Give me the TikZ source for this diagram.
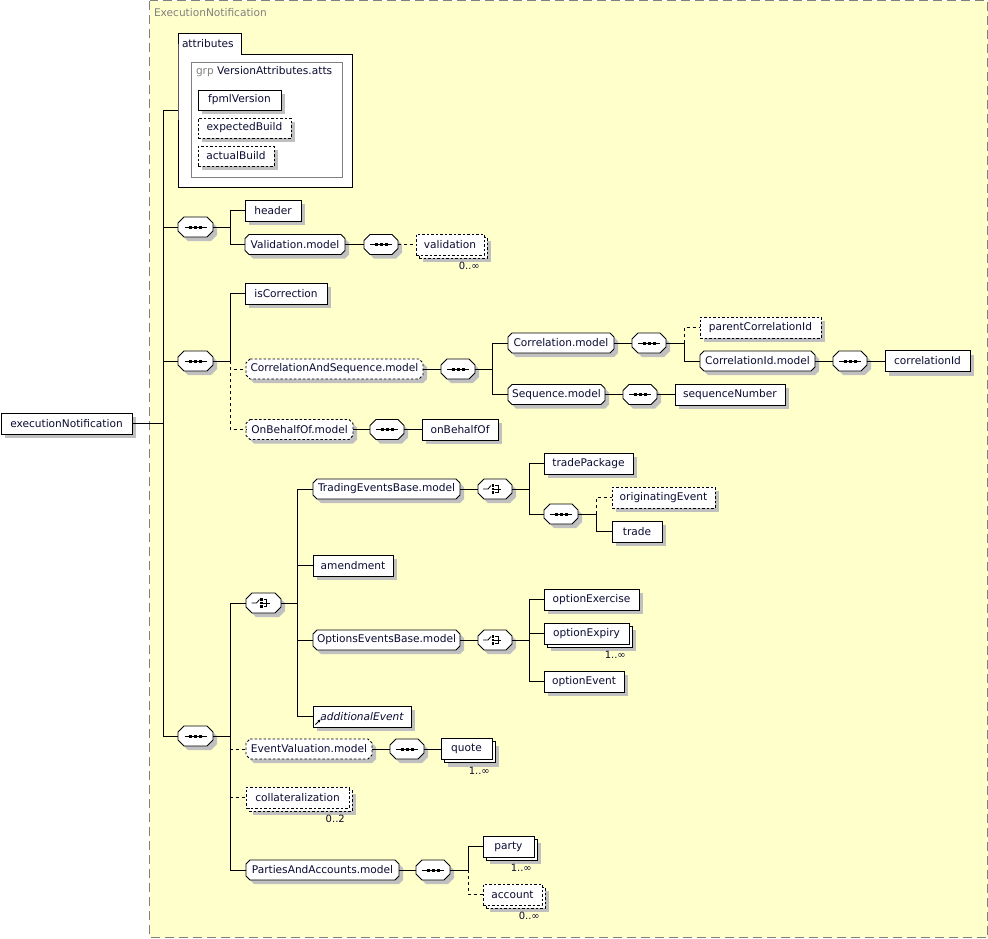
\documentclass[tikz,border=0pt]{standalone}
\usepackage{fontspec}
\setmainfont{DejaVu Sans}
\usetikzlibrary{arrows.meta}
\definecolor{bgy}{RGB}{255,255,204}
\definecolor{bordg}{RGB}{128,128,128}
\definecolor{shc}{RGB}{192,192,192}
\definecolor{txt}{RGB}{10,10,50}
\tikzset{
  base/.style={inner sep=0pt, outer sep=0pt, font=\fontsize{10.6}{12}\selectfont, text=txt},
  sh/.style={preaction={fill=shc, draw=none, transform canvas={xshift=4pt,yshift=-4pt}}},
  shm/.style={preaction={fill=shc, draw=none, transform canvas={xshift=7pt,yshift=-7pt}},
              preaction={fill=white, draw=black, transform canvas={xshift=3pt,yshift=-3pt}}},
  elem/.style={base, draw, fill=white, line width=0.9pt, sh},
  melem/.style={base, draw, fill=white, line width=0.9pt, shm},
  opt/.style={dash pattern=on 2.5pt off 2pt},
  link/.style={line width=0.9pt},
  olink/.style={line width=0.9pt, dash pattern=on 3pt off 3pt},
  occ/.style={font=\fontsize{10}{11}\selectfont, text=txt, inner sep=0pt, anchor=north east},
}
\newcommand\el[7]{\node[#7, minimum width={(#4-#2)*1pt}, minimum height={(#5-#3)*1pt}] (#1) at ({(#2+#4)/2},{(#3+#5)/2}) {#6};}
\newcommand\oc[8]{%
  \draw[line width=0.9pt, fill=white, sh, #8] ({#2+#6},#3) -- ({#4-#6},#3) -- (#4,{#3+#6}) -- (#4,{#5-#6}) -- ({#4-#6},#5) -- ({#2+#6},#5) -- (#2,{#5-#6}) -- (#2,{#3+#6}) -- cycle;
  \node[base, minimum width={(#4-#2)*1pt}, minimum height={(#5-#3)*1pt}] (#1) at ({(#2+#4)/2},{(#3+#5)/2}) {#7};}
\newcommand\seqic[1]{%
  \draw[line width=0.9pt] ([xshift=-11pt]#1.center) -- ([xshift=11pt]#1.center);
  \foreach \d in {-5,0,5} \fill ([xshift=\d pt-1.5pt, yshift=1.5pt]#1.center) rectangle ++(3,3);}
\newcommand\choiceic[1]{%
  \draw[line width=0.8pt] ([xshift=-12pt]#1.center) -- ([xshift=-7pt]#1.center) -- ([xshift=-4pt,yshift=3.5pt]#1.center);
  \foreach \d in {3.5,0,-3.5} \fill ([xshift=-3.5pt,yshift=\d pt+1.25pt]#1.center) rectangle ++(2.5,2.5);
  \draw[line width=0.8pt] ([xshift=0pt,yshift=3.5pt]#1.center) -- ([xshift=3pt,yshift=3.5pt]#1.center) -- ([xshift=3pt,yshift=-3.5pt]#1.center) -- ([xshift=0pt,yshift=-3.5pt]#1.center);
  \draw[line width=0.8pt] ([xshift=-1pt]#1.center) -- ([xshift=6pt]#1.center);}
\newcommand\seqsym[6]{\oc{#1}{#2}{#3}{#4}{#5}{6}{}{#6}\seqic{#1}}
\newcommand\chsym[6]{\oc{#1}{#2}{#3}{#4}{#5}{6}{}{#6}\choiceic{#1}}
\begin{document}
\begin{tikzpicture}[x=1pt,y=-1pt]
\useasboundingbox (0,0) rectangle (988,938);
% container
\draw[bordg, fill=bgy, line width=1pt, dash pattern=on 9pt off 5pt] (149.5,0.5) rectangle (987.5,937.5);
\node[base, text=bordg, anchor=west] (ctitle) at (154,13) {ExecutionNotification};
% root
\el{root}{1}{413}{132}{434}{executionNotification}{elem}
% attributes
\draw[line width=0.9pt, fill=white] (178,54) -- (178,33) -- (241,33) -- (241,54) -- (352,54) -- (352,187) -- (178,187) -- cycle;
\node[base, minimum width=174pt, minimum height=154pt] (attrs) at (265,110) {};
\node[base, anchor=west] (attrl) at (182,43.5) {attributes};
\draw[bordg, line width=0.9pt] (191,62) rectangle (342,177);
\node[base, anchor=west] (grpl) at (196,72) {\textcolor{bordg}{grp} VersionAttributes.atts};
\el{fpml}{198}{90}{281}{110}{fpmlVersion}{elem}
\el{expb}{198}{118}{291}{138}{expectedBuild}{elem,opt}
\el{actb}{198}{146}{274}{166}{actualBuild}{elem,opt}
% sequence A
\seqsym{seqA}{178}{217}{213}{237}{}
\el{header}{245}{200}{301}{221}{header}{elem}
\oc{valm}{245}{234.5}{345}{254.5}{4}{Validation.model}{}
\seqsym{valseq}{364}{234.5}{398}{254.5}{}
\el{valid}{416}{234}{484}{255}{validation}{melem,opt}
\node[occ] (valocc) at (480,262) {0..∞};
% sequence B
\seqsym{seqB}{178}{351}{213}{371}{}
\el{iscorr}{245}{283}{327}{304}{isCorrection}{elem}
\oc{cas}{246}{359}{423}{379}{4}{CorrelationAndSequence.model}{opt}
\seqsym{casseq}{441}{359}{475}{379}{}
\oc{corrm}{508}{333}{614}{353}{4}{Correlation.model}{}
\seqsym{corrseq}{632}{333}{666}{353}{}
\el{pcid}{700}{317}{821}{338}{parentCorrelationId}{elem,opt}
\oc{cidm}{700}{351}{815}{371}{4}{CorrelationId.model}{}
\seqsym{cidseq}{833}{351}{867}{371}{}
\el{cid}{885}{350.5}{970}{371.5}{correlationId}{elem}
\oc{seqm}{508}{384.5}{605}{404.5}{4}{Sequence.model}{}
\seqsym{seqmseq}{623}{384.5}{657}{404.5}{}
\el{seqnum}{675}{384}{785}{405}{sequenceNumber}{elem}
\oc{obo}{246}{419.5}{353}{439.5}{4}{OnBehalfOf.model}{opt}
\seqsym{oboseq}{370}{419.5}{404}{439.5}{}
\el{onbeh}{422}{419}{498}{440}{onBehalfOf}{elem}
% sequence D
\seqsym{seqD}{178}{726}{213}{746}{}
\chsym{choiceA}{246}{593}{281}{613}{}
\oc{tebm}{313}{479}{460}{499}{4}{TradingEventsBase.model}{}
\chsym{tchoice}{478}{479}{512}{499}{}
\el{tpkg}{544}{453}{633}{474}{tradePackage}{elem}
\seqsym{tseq}{544}{504}{578}{524}{}
\el{origev}{612}{487}{715}{508}{originatingEvent}{elem,opt}
\el{trade}{612}{521}{662}{542}{trade}{elem}
\el{amend}{313}{555}{393}{576}{amendment}{elem}
\oc{oebm}{313}{630}{460}{650}{4}{OptionsEventsBase.model}{}
\chsym{ochoice}{478}{630}{512}{650}{}
\el{optex}{544}{589}{639}{610}{optionExercise}{elem}
\el{optexp}{544}{623}{629}{644}{optionExpiry}{melem}
\node[occ] (optexpocc) at (626,651) {1..∞};
\el{optev}{544}{671}{624}{692}{optionEvent}{elem}
\el{addev}{313}{706}{411}{727}{\itshape additionalEvent}{elem}
\draw[-{Stealth[length=3pt,width=3pt]}, line width=0.8pt] ([xshift=2.5pt,yshift=2.5pt]addev.south west) -- ++(5,-5);
\oc{evm}{246}{739}{372}{759}{4}{EventValuation.model}{opt}
\seqsym{evseq}{390}{739}{424}{759}{}
\el{quote}{441}{738.5}{492}{759.5}{quote}{melem}
\node[occ] (quoteocc) at (490,767) {1..∞};
\el{coll}{246}{787}{349}{808}{collateralization}{melem,opt}
\node[occ] (collocc) at (345,815) {0..2};
\oc{pam}{246}{860}{399}{880}{4}{PartiesAndAccounts.model}{}
\seqsym{paseq}{416}{860}{450}{880}{}
\el{party}{483}{836}{534}{857}{party}{melem}
\node[occ] (partyocc) at (532,864) {1..∞};
\el{account}{483}{884}{542}{905}{account}{melem,opt}
\node[occ] (accocc) at (540,912) {0..∞};
% ---- connectors
\coordinate (TA) at (163,110);
\coordinate (TD) at (163,736);
\draw[link] (TA) -- (TD);
\draw[link] (root.east) -- (root.east -| TA);
\draw[link] (attrs.west -| TA) -- (attrs.west);
\draw[link] (seqA.west -| TA) -- (seqA.west);
\draw[link] (seqB.west -| TA) -- (seqB.west);
\draw[link] (seqD.west -| TA) -- (seqD.west);
% A
\coordinate (jA) at ([xshift=17pt]seqA.east);
\draw[link] (seqA.east) -- (jA) |- (header.west);
\draw[link] (jA) |- (valm.west);
\draw[link] (valm.east) -- (valseq.west);
\draw[olink] (valseq.east) -- (valseq.east -| valid.west);
% B
\coordinate (jB) at ([xshift=17pt]seqB.east);
\draw[link] (seqB.east) -- (jB) |- (iscorr.west);
\draw[olink] (jB) |- (cas.west);
\draw[olink] (jB) |- (obo.west);
\draw[link] (cas.east) -- (casseq.west);
\coordinate (jC) at ([xshift=17pt]casseq.east);
\draw[link] (casseq.east) -- (jC) |- (corrm.west);
\draw[link] (jC) |- (seqm.west);
\draw[link] (corrm.east) -- (corrseq.west);
\coordinate (jE) at ([xshift=18pt]corrseq.east);
\draw[link] (corrseq.east) -- (jE);
\draw[olink] (jE) |- (pcid.west);
\draw[link] (jE) |- (cidm.west);
\draw[link] (cidm.east) -- (cidseq.west);
\draw[link] (cidseq.east) -- (cid.west);
\draw[link] (seqm.east) -- (seqmseq.west);
\draw[link] (seqmseq.east) -- (seqnum.west);
\draw[link] (obo.east) -- (oboseq.west);
\draw[link] (oboseq.east) -- (onbeh.west);
% D
\coordinate (jD) at ([xshift=17pt]seqD.east);
\draw[link] (seqD.east) -- (jD) |- (choiceA.west);
\draw[link] (jD) |- (pam.west);
\draw[olink] (jD |- evm.west) -- (evm.west);
\draw[olink] (jD |- coll.west) -- (coll.west);
\coordinate (jF) at ([xshift=16pt]choiceA.east);
\draw[link] (choiceA.east) -- (jF) |- (tebm.west);
\draw[link] (jF) |- (amend.west);
\draw[link] (jF) |- (oebm.west);
\draw[link] (jF) |- (addev.west);
\draw[link] (tebm.east) -- (tchoice.west);
\coordinate (jG) at ([xshift=17pt]tchoice.east);
\draw[link] (tchoice.east) -- (jG) |- (tpkg.west);
\draw[link] (jG) |- (tseq.west);
\coordinate (jH) at ([xshift=18pt]tseq.east);
\draw[link] (tseq.east) -- (jH);
\draw[olink] (jH) |- (origev.west);
\draw[link] (jH) |- (trade.west);
\draw[link] (oebm.east) -- (ochoice.west);
\coordinate (jI) at ([xshift=17pt]ochoice.east);
\draw[link] (ochoice.east) -- (jI) |- (optex.west);
\draw[link] (jI) |- (optexp.west);
\draw[link] (jI) |- (optev.west);
\draw[link] (evm.east) -- (evseq.west);
\draw[link] (evseq.east) -- (quote.west);
\draw[link] (pam.east) -- (paseq.west);
\coordinate (jJ) at ([xshift=18pt]paseq.east);
\draw[link] (paseq.east) -- (jJ) |- (party.west);
\draw[olink] (jJ) |- (account.west);
\end{tikzpicture}
\end{document}
